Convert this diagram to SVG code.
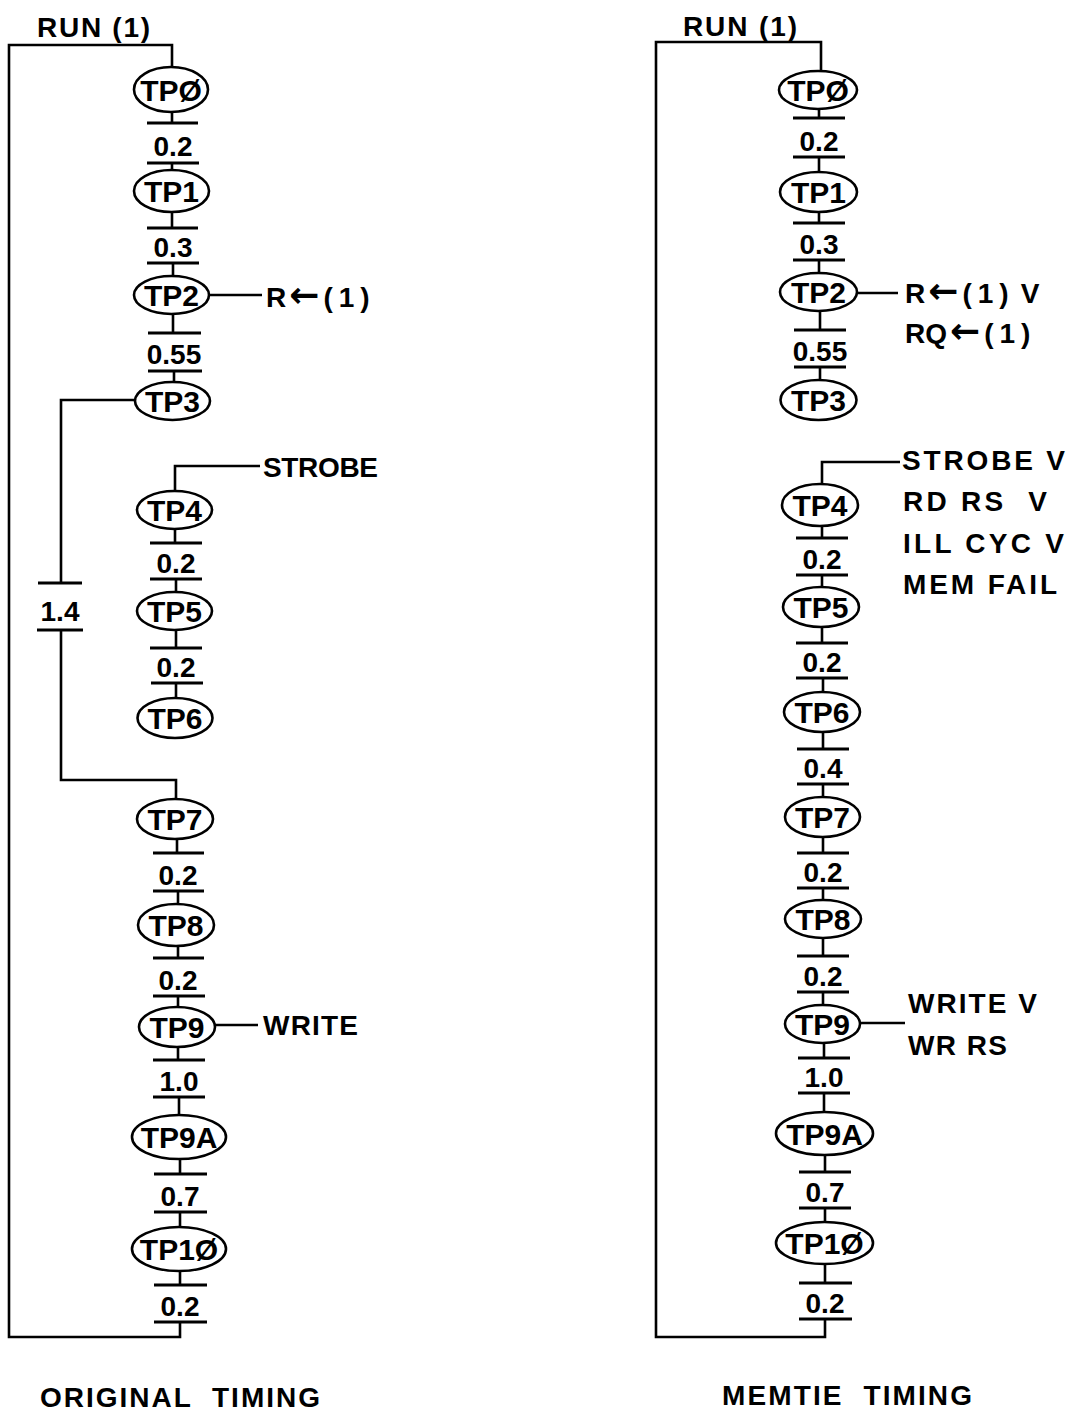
<svg xmlns="http://www.w3.org/2000/svg" width="1070" height="1414" viewBox="0 0 1070 1414">
<style>
.ln{stroke:#000;stroke-width:2.6;fill:none}
.bar{stroke:#000;stroke-width:3;fill:none}
.nd{fill:#fff;stroke:#000;stroke-width:2.6}
.t{font-family:"Liberation Sans","DejaVu Sans",Arial,sans-serif;font-weight:bold;font-size:28px;fill:#000}
.c{text-anchor:middle}
.tp{font-size:30px}
.ar{font-family:"DejaVu Sans",sans-serif;font-size:36px;font-weight:bold}
.pr{letter-spacing:6px}
</style>
<rect x="0" y="0" width="1070" height="1414" fill="#fff"/>

<g id="connectors">
  <!-- left column -->
  <path class="ln" d="M172,67 V45 H9 V1337 H180 V1322"/>
  <path class="ln" d="M172,112 V123 M172,163 V170 M172,212 V228 M173,263 V276 M173,314 V333 M174,371 V382 M175,529 V543 M176,579 V592 M176,630 V648 M176,683 V698 M177,839 V853 M178,891 V904 M178,946 V958 M178,996 V1007 M178,1047 V1060 M179,1097 V1115 M180,1159 V1174 M180,1212 V1227 M180,1271 V1285"/>
  <path class="ln" d="M135,400 H61 V583 M61,630 V780 H176 V799"/>
  <path class="ln" d="M175,491 V466 H260"/>
  <path class="ln" d="M209,295 H262"/>
  <path class="ln" d="M215,1025 H258"/>
  <!-- right column -->
  <path class="ln" d="M821,71 V42 H656 V1337 H825 V1319"/>
  <path class="ln" d="M819,109 V118 M819,157 V172 M819,212 V223 M819,260 V273 M820,311 V330 M820,367 V380 M822,526 V538 M822,575 V587 M822,627 V643 M823,678 V692 M823,732 V749 M823,784 V797 M823,837 V853 M823,888 V900 M823,938 V956 M823,992 V1005 M824,1043 V1058 M824,1093 V1112 M825,1155 V1172 M825,1208 V1222 M825,1264 V1283"/>
  <path class="ln" d="M857,293 H898"/>
  <path class="ln" d="M822,484 V462 H900"/>
  <path class="ln" d="M860,1023 H905"/>
</g>

<!-- left column nodes -->
<g id="L-TP0"><ellipse class="nd" cx="171" cy="89.5" rx="37" ry="22.5"/><text class="t c tp" x="171" y="100.5">TPØ</text></g>
<g id="L-TP1"><ellipse class="nd" cx="171.5" cy="191" rx="37.5" ry="21"/><text class="t c tp" x="171.5" y="202">TP1</text></g>
<g id="L-TP2"><ellipse class="nd" cx="171.5" cy="295" rx="37.5" ry="19"/><text class="t c tp" x="171.5" y="306">TP2</text></g>
<g id="L-TP3"><ellipse class="nd" cx="172.5" cy="401" rx="37.5" ry="19"/><text class="t c tp" x="172.5" y="412">TP3</text></g>
<g id="L-TP4"><ellipse class="nd" cx="174.5" cy="510" rx="37.5" ry="19"/><text class="t c tp" x="174.5" y="521">TP4</text></g>
<g id="L-TP5"><ellipse class="nd" cx="174.5" cy="611" rx="37.5" ry="19"/><text class="t c tp" x="174.5" y="622">TP5</text></g>
<g id="L-TP6"><ellipse class="nd" cx="175" cy="718" rx="37.5" ry="20"/><text class="t c tp" x="175" y="729">TP6</text></g>
<g id="L-TP7"><ellipse class="nd" cx="175" cy="819" rx="38" ry="20"/><text class="t c tp" x="175" y="830">TP7</text></g>
<g id="L-TP8"><ellipse class="nd" cx="176" cy="925" rx="38" ry="21"/><text class="t c tp" x="176" y="936">TP8</text></g>
<g id="L-TP9"><ellipse class="nd" cx="177" cy="1027" rx="38" ry="20"/><text class="t c tp" x="177" y="1038">TP9</text></g>
<g id="L-TP9A"><ellipse class="nd" cx="179" cy="1137" rx="47" ry="22"/><text class="t c tp" x="179" y="1148">TP9A</text></g>
<g id="L-TP10"><ellipse class="nd" cx="179" cy="1249" rx="47" ry="22"/><text class="t c tp" x="179" y="1260">TP1Ø</text></g>

<!-- left delays -->
<g id="L-D0"><path class="bar" d="M147,123 H198 M147,163 H199"/><text class="t c" x="173" y="156">0.2</text></g>
<g id="L-D1"><path class="bar" d="M147,228 H198 M147,263 H199"/><text class="t c" x="173" y="257">0.3</text></g>
<g id="L-D2"><path class="bar" d="M148,333 H201 M148,371 H202"/><text class="t c" x="174" y="364">0.55</text></g>
<g id="L-D14"><path class="bar" d="M38,583 H82 M37,630 H83"/><text class="t c" x="60" y="621">1.4</text></g>
<g id="L-D4"><path class="bar" d="M150,543 H202 M150,579 H202"/><text class="t c" x="176" y="573">0.2</text></g>
<g id="L-D5"><path class="bar" d="M150,648 H202 M151,683 H203"/><text class="t c" x="176" y="677">0.2</text></g>
<g id="L-D7"><path class="bar" d="M153,853 H204 M153,891 H204"/><text class="t c" x="178" y="885">0.2</text></g>
<g id="L-D8"><path class="bar" d="M153,958 H204 M153,996 H205"/><text class="t c" x="178" y="990">0.2</text></g>
<g id="L-D9"><path class="bar" d="M153,1060 H205 M153,1097 H205"/><text class="t c" x="179" y="1091">1.0</text></g>
<g id="L-D9A"><path class="bar" d="M154,1174 H207 M154,1212 H207"/><text class="t c" x="180" y="1206">0.7</text></g>
<g id="L-D10"><path class="bar" d="M154,1285 H207 M154,1322 H207"/><text class="t c" x="180" y="1316">0.2</text></g>

<!-- left labels -->
<text class="t" x="37" y="37" textLength="113">RUN (1)</text>
<text class="t" x="266" y="307">R<tspan class="ar" dx="3">←</tspan><tspan class="pr" dx="4">(1)</tspan></text>
<text class="t" x="263" y="477" textLength="115">STROBE</text>
<text class="t" x="263" y="1035" textLength="95">WRITE</text>
<text class="t" x="40" y="1407" textLength="280" xml:space="preserve">ORIGINAL  TIMING</text>

<!-- right column nodes -->
<g id="R-TP0"><ellipse class="nd" cx="818" cy="90" rx="39" ry="19"/><text class="t c tp" x="818" y="101">TPØ</text></g>
<g id="R-TP1"><ellipse class="nd" cx="818.5" cy="192" rx="38.5" ry="20"/><text class="t c tp" x="818.5" y="203">TP1</text></g>
<g id="R-TP2"><ellipse class="nd" cx="818.5" cy="292" rx="38.5" ry="19"/><text class="t c tp" x="818.5" y="303">TP2</text></g>
<g id="R-TP3"><ellipse class="nd" cx="818.5" cy="400" rx="38" ry="20"/><text class="t c tp" x="818.5" y="411">TP3</text></g>
<g id="R-TP4"><ellipse class="nd" cx="820" cy="505" rx="38" ry="21"/><text class="t c tp" x="820" y="516">TP4</text></g>
<g id="R-TP5"><ellipse class="nd" cx="821" cy="607" rx="38" ry="20"/><text class="t c tp" x="821" y="618">TP5</text></g>
<g id="R-TP6"><ellipse class="nd" cx="822" cy="712" rx="38" ry="20"/><text class="t c tp" x="822" y="723">TP6</text></g>
<g id="R-TP7"><ellipse class="nd" cx="822.5" cy="817" rx="37.5" ry="20"/><text class="t c tp" x="822.5" y="828">TP7</text></g>
<g id="R-TP8"><ellipse class="nd" cx="823" cy="919" rx="38" ry="19"/><text class="t c tp" x="823" y="930">TP8</text></g>
<g id="R-TP9"><ellipse class="nd" cx="822.5" cy="1024" rx="37.5" ry="19"/><text class="t c tp" x="822.5" y="1035">TP9</text></g>
<g id="R-TP9A"><ellipse class="nd" cx="824.5" cy="1133.5" rx="48.5" ry="21.5"/><text class="t c tp" x="824.5" y="1144.5">TP9A</text></g>
<g id="R-TP10"><ellipse class="nd" cx="824.5" cy="1243" rx="48.5" ry="21"/><text class="t c tp" x="824.5" y="1254">TP1Ø</text></g>

<!-- right delays -->
<g id="R-D0"><path class="bar" d="M793,118 H845 M793,157 H845"/><text class="t c" x="819" y="151">0.2</text></g>
<g id="R-D1"><path class="bar" d="M793,223 H845 M793,260 H845"/><text class="t c" x="819" y="254">0.3</text></g>
<g id="R-D2"><path class="bar" d="M794,330 H846 M794,367 H846"/><text class="t c" x="820" y="361">0.55</text></g>
<g id="R-D4"><path class="bar" d="M796,538 H848 M796,575 H848"/><text class="t c" x="822" y="569">0.2</text></g>
<g id="R-D5"><path class="bar" d="M796,643 H848 M796,678 H848"/><text class="t c" x="822" y="672">0.2</text></g>
<g id="R-D6"><path class="bar" d="M797,749 H849 M797,784 H849"/><text class="t c" x="823" y="778">0.4</text></g>
<g id="R-D7"><path class="bar" d="M797,853 H849 M797,888 H849"/><text class="t c" x="823" y="882">0.2</text></g>
<g id="R-D8"><path class="bar" d="M797,956 H849 M797,992 H849"/><text class="t c" x="823" y="986">0.2</text></g>
<g id="R-D9"><path class="bar" d="M798,1058 H850 M798,1093 H850"/><text class="t c" x="824" y="1087">1.0</text></g>
<g id="R-D9A"><path class="bar" d="M799,1172 H851 M799,1208 H851"/><text class="t c" x="825" y="1202">0.7</text></g>
<g id="R-D10"><path class="bar" d="M799,1283 H852 M799,1319 H852"/><text class="t c" x="825" y="1313">0.2</text></g>

<!-- right labels -->
<text class="t" x="683" y="36" textLength="114">RUN (1)</text>
<text class="t" x="905" y="303">R<tspan class="ar" dx="3">←</tspan><tspan class="pr" dx="4">(1)</tspan><tspan dx="6">V</tspan></text>
<text class="t" x="905" y="343">RQ<tspan class="ar" dx="3">←</tspan><tspan class="pr" dx="4">(1)</tspan></text>
<text class="t" x="902" y="470" textLength="163">STROBE V</text>
<text class="t" x="903" y="511" textLength="144" xml:space="preserve">RD RS  V</text>
<text class="t" x="903" y="553" textLength="161">ILL CYC V</text>
<text class="t" x="903" y="594" textLength="154">MEM FAIL</text>
<text class="t" x="908" y="1013" textLength="129">WRITE V</text>
<text class="t" x="908" y="1055" textLength="99">WR RS</text>
<text class="t" x="722" y="1405" textLength="250" xml:space="preserve">MEMTIE  TIMING</text>
</svg>
